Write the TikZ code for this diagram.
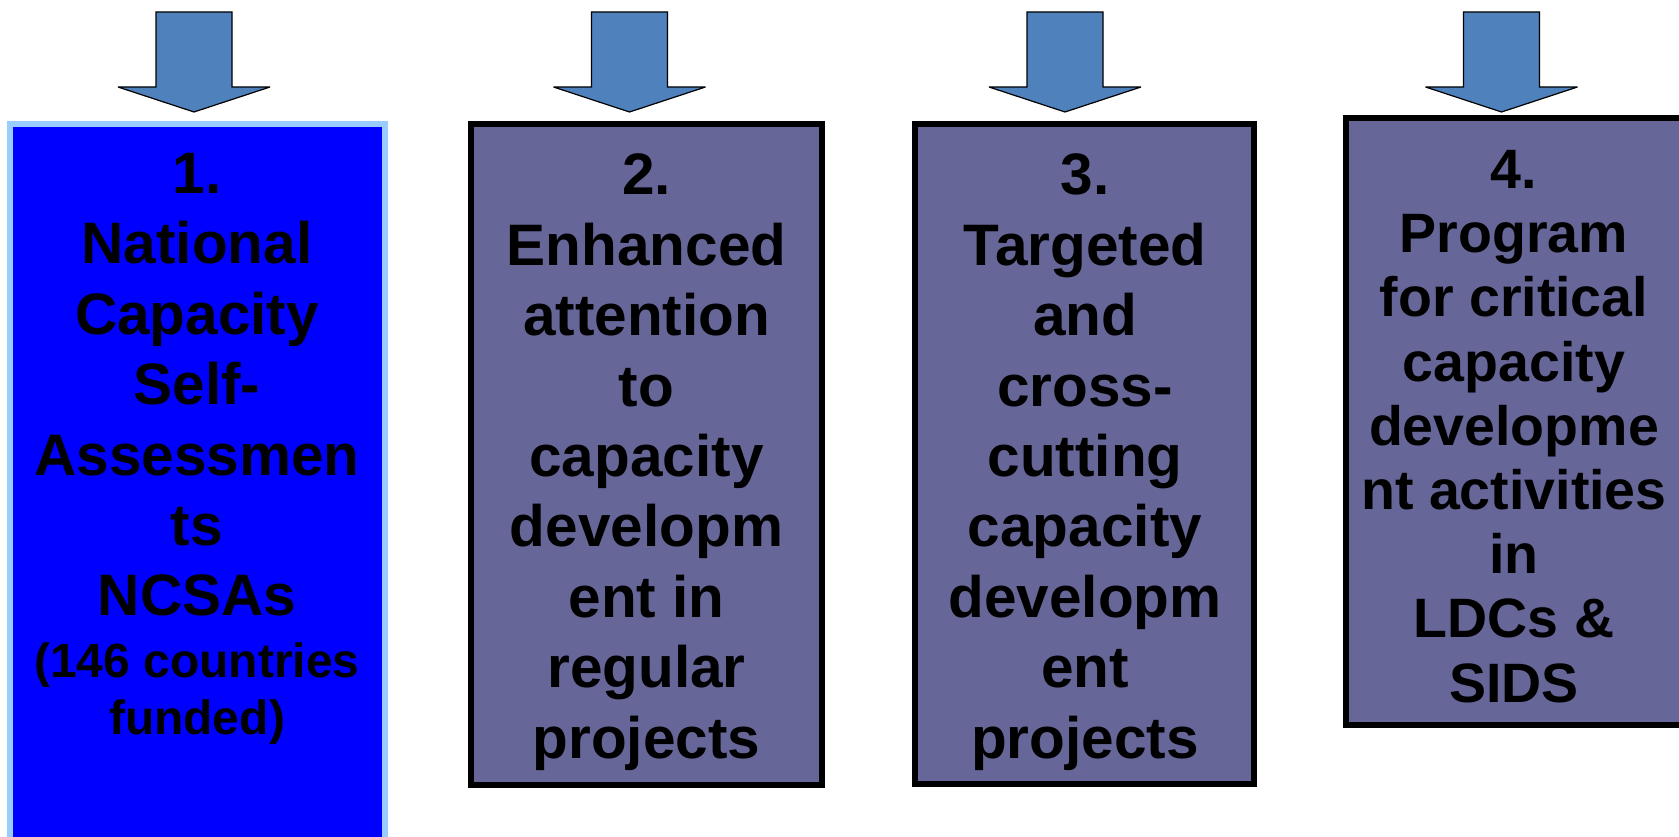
\documentclass[tikz,border=0pt]{standalone}
\usepackage{fontspec}
\setmainfont{Liberation Sans}
\usetikzlibrary{positioning}
\definecolor{arrowblue}{RGB}{79,129,189}
\definecolor{panelgray}{RGB}{102,102,153}
\definecolor{panelblue}{RGB}{0,0,255}
\definecolor{panelrim}{RGB}{153,204,255}
\tikzset{
    blockarrow/.style={fill=arrowblue, draw=black, line width=1.2pt, line join=miter, miter limit=4},
    panel/.style={draw=black, line width=6pt, fill=panelgray},
    paneltext/.style={align=center, anchor=base, inner sep=0pt,
        font=\bfseries\fontsize{58.5}{70.4}\selectfont},
}

\begin{document}
\begin{tikzpicture}[x=1pt,y=-1pt]
    \useasboundingbox (0,0) rectangle (1679,837);
    % down arrows
    \foreach \x in {194,629.5,1065,1501.5}
        \draw[blockarrow] (\x-38,12) -- (\x+38,12) -- (\x+38,87) -- (\x+76,87)
            -- (\x,112) -- (\x-76,87) -- (\x-38,87) -- cycle;
    % boxes
    \draw[panel, draw=panelrim, line width=5.5pt, fill=panelblue] (10,124) rectangle (385,850);
    \draw[panel] (471,124) rectangle (822,785);
    \draw[panel] (915,124) rectangle (1254,784);
    \draw[panel] (1346,118) rectangle (1690,725);
    % texts
    \node[paneltext] (t1) at (197,615.8) {1.\\National\\Capacity\\Self-\\Assessmen\\ts\\NCSAs};
    \node[paneltext, font=\bfseries\fontsize{48}{57}\selectfont] (t1b) at (197,734) {(146 countries\\funded)};
    \node[paneltext] (t2) at (646.5,758) {2.\\Enhanced\\attention\\to\\capacity\\developm\\ent in\\regular\\projects};
    \node[paneltext] (t3) at (1085,758) {3.\\Targeted\\and\\cross-\\cutting\\capacity\\developm\\ent\\projects};
    \node[paneltext, font=\bfseries\fontsize{55.5}{64.2}\selectfont] (t4) at (1514,702) {4.\\Program\\for critical\\capacity\\developme\\nt activities\\in\\LDCs \&\\SIDS};
\end{tikzpicture}
\end{document}
